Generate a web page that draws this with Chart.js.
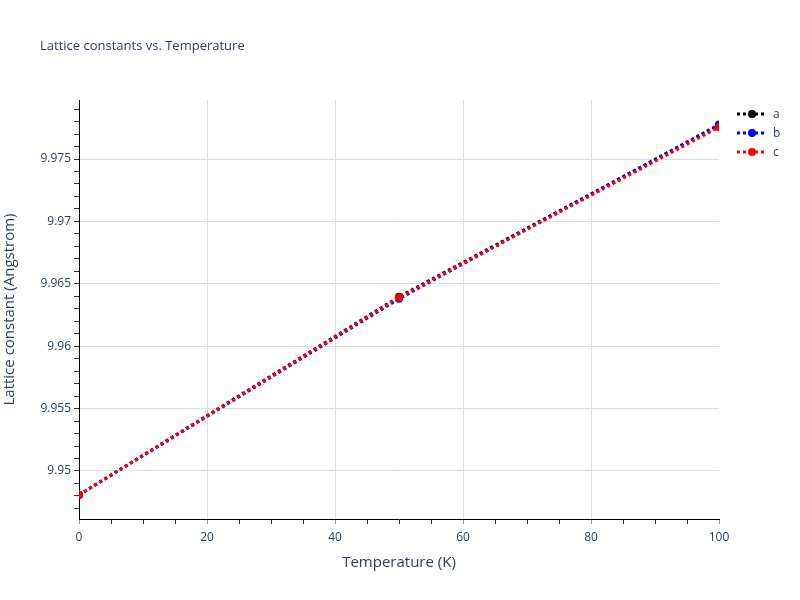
<!DOCTYPE html>
<html lang="en">
<head>
<meta charset="UTF-8">
<title>Lattice constants vs. Temperature</title>
<script src="https://cdn.jsdelivr.net/npm/chart.js@4.4.0/dist/chart.umd.min.js"></script>
<style>
  body { margin: 0; background: #fff; }
  canvas { display: block; }
</style>
</head>
<body>
<canvas id="graph" width="800" height="600"></canvas>
<script>
// data
const temperature = [0, 50, 100];
const latticeA = [9.94808, 9.96396, 9.97770];
const latticeB = [9.94808, 9.96380, 9.97776];
const latticeC = [9.94808, 9.96390, 9.97755];
const seriesNames = ['a', 'b', 'c'];
const seriesColors = ['#000000', '#0000ff', '#ff0000'];

const xMajorTicks = [0, 20, 40, 60, 80, 100];
const yMajorTicks = [9.95, 9.955, 9.96, 9.965, 9.97, 9.975];

const FONT = '"Open Sans", "DejaVu Sans", sans-serif';
const TEXT = '#2a3f5f';

// minor ticks, plotly style
const xAllTicks = [];
for (let v = 0; v <= 100; v += 5) xAllTicks.push(v);
const yAllTicks = [];
for (let i = 9947; i <= 9979; i++) yAllTicks.push(i / 1000);

function isMajor(list, v) {
  return list.some(t => Math.abs(t - v) < 1e-7);
}

const ds = [latticeA, latticeB, latticeC].map((vals, i) => ({
  label: seriesNames[i],
  data: temperature.map((t, j) => ({ x: t, y: vals[j] })),
  borderColor: seriesColors[i],
  backgroundColor: seriesColors[i],
  borderWidth: 3,
  borderDash: [3, 3],
  pointRadius: 4,
  pointHoverRadius: 4,
  pointBorderWidth: 0,
  clip: 0,
  order: 3 - i
}));

const decor = {
  id: 'decor',
  afterDraw(chart) {
    const c = chart.ctx;
    c.save();
    c.fillStyle = TEXT;
    c.font = '13px ' + FONT;
    c.textBaseline = 'middle';
    c.textAlign = 'left';
    c.fillText('Lattice constants vs. Temperature', 40, 46);

    seriesNames.forEach((name, i) => {
      const y = 114 + i * 19;
      c.strokeStyle = seriesColors[i];
      c.lineWidth = 3;
      c.setLineDash([3, 3]);
      c.beginPath();
      c.moveTo(737, y);
      c.lineTo(767, y);
      c.stroke();
      c.setLineDash([]);
      c.fillStyle = seriesColors[i];
      c.beginPath();
      c.arc(752, y, 4, 0, Math.PI * 2);
      c.fill();
      c.fillStyle = TEXT;
      c.font = '12px ' + FONT;
      c.fillText(name, 773, y + 1);
    });
    c.restore();
  }
};

new Chart(document.getElementById('graph').getContext('2d'), {
  type: 'line',
  data: { datasets: ds },
  plugins: [decor],
  options: {
    responsive: false,
    animation: false,
    events: [],
    layout: { padding: { top: 100, right: 81, bottom: 24, left: 0 } },
    plugins: { legend: { display: false }, tooltip: { enabled: false }, title: { display: false } },
    scales: {
      x: {
        type: 'linear',
        min: 0,
        max: 100,
        afterFit: s => { s.height = 57; },
        afterBuildTicks: s => { s.ticks = xAllTicks.map(v => ({ value: v })); },
        border: { color: '#000', width: 1 },
        grid: {
          color: ctx => (ctx.tick && isMajor(xMajorTicks, ctx.tick.value) && ctx.tick.value > 0 && ctx.tick.value < 100) ? '#dddddd' : 'rgba(0,0,0,0)',
          lineWidth: 1,
          tickLength: 5,
          tickColor: ctx => (ctx.tick && isMajor(xMajorTicks, ctx.tick.value)) ? '#999' : '#333',
          tickWidth: 1
        },
        ticks: {
          autoSkip: false,
          maxRotation: 0,
          padding: 6,
          color: TEXT,
          font: { family: FONT, size: 12 },
          callback: v => isMajor(xMajorTicks, v) ? String(v) : ''
        },
        title: {
          display: true,
          text: 'Temperature (K)',
          color: TEXT,
          font: { family: FONT, size: 15 },
          padding: 4
        }
      },
      y: {
        type: 'linear',
        min: 9.94615,
        max: 9.97973,
        afterFit: s => { s.width = 79; },
        afterBuildTicks: s => { s.ticks = yAllTicks.map(v => ({ value: v })); },
        border: { color: '#000', width: 1 },
        grid: {
          color: ctx => (ctx.tick && isMajor(yMajorTicks, ctx.tick.value)) ? '#dddddd' : 'rgba(0,0,0,0)',
          lineWidth: 1,
          tickLength: 5,
          tickColor: '#333',
          tickWidth: 1
        },
        ticks: {
          autoSkip: false,
          padding: 3,
          color: TEXT,
          font: { family: FONT, size: 12 },
          callback: v => isMajor(yMajorTicks, v) ? String(Number(v.toFixed(3))) : ''
        },
        title: {
          display: true,
          text: 'Lattice constant (Angstrom)',
          color: TEXT,
          font: { family: FONT, size: 15 },
          padding: 1
        }
      }
    }
  }
});
</script>
</body>
</html>
